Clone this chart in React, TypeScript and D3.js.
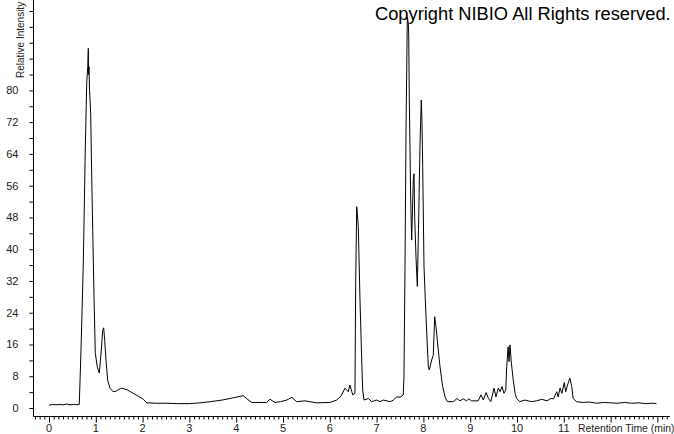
import React, { useRef, useEffect } from "react"
import * as d3 from "d3"

// retention time (min) and relative intensity
const retentionTime = [
  0.0, 0.08, 0.15, 0.22, 0.3, 0.38, 0.45, 0.52, 0.6, 0.647, 0.684, 0.733,
  0.776, 0.806, 0.828, 0.84, 0.846, 0.855, 0.866, 0.876, 0.891, 0.912, 0.934,
  0.962, 0.989, 1.032, 1.075, 1.118, 1.147, 1.169, 1.19, 1.218, 1.254, 1.303,
  1.361, 1.41, 1.48, 1.553, 1.667, 1.8, 1.92, 2.015, 2.088, 2.3, 2.515, 2.75,
  3.0, 3.23, 3.45, 3.7, 3.95, 4.15, 4.22, 4.33, 4.65, 4.72, 4.83, 4.95, 5.08,
  5.19, 5.29, 5.47, 5.72, 6.0, 6.147, 6.24, 6.325, 6.395, 6.43, 6.49, 6.538,
  6.553, 6.575, 6.588, 6.609, 6.645, 6.682, 6.703, 6.731, 6.823, 6.895, 7.002,
  7.07, 7.14, 7.29, 7.36, 7.43, 7.5, 7.57, 7.585, 7.607, 7.628, 7.656, 7.677,
  7.686, 7.699, 7.729, 7.75, 7.767, 7.784, 7.799, 7.814, 7.842, 7.87, 7.895,
  7.927, 7.955, 7.97, 7.985, 8.013, 8.041, 8.071, 8.105, 8.126, 8.177, 8.211,
  8.241, 8.269, 8.318, 8.355, 8.412, 8.462, 8.511, 8.64, 8.72, 8.78, 8.85,
  8.92, 8.97, 9.03, 9.17, 9.23, 9.28, 9.34, 9.39, 9.44, 9.51, 9.55, 9.6, 9.64,
  9.68, 9.72, 9.76, 9.78, 9.81, 9.83, 9.85, 9.88, 9.92, 9.96, 9.99, 10.06,
  10.17, 10.24, 10.31, 10.42, 10.53, 10.64, 10.72, 10.78, 10.85, 10.88, 10.92,
  10.96, 11.01, 11.04, 11.08, 11.13, 11.17, 11.2, 11.27, 11.4, 11.55, 11.7,
  11.85, 12.0, 12.15, 12.3, 12.45, 12.6, 12.75, 12.9, 12.98,
]
const intensity = [
  0.7, 0.9, 0.8, 0.9, 0.8, 1.0, 0.8, 0.9, 0.8, 0.9, 14.6, 36.5,
  65.7, 81.9, 86, 90.6, 84, 86, 80, 78, 74, 59, 45,
  28, 13.8, 10.3, 8.8, 14.6, 19.6, 20.2, 17, 12, 7, 5,
  4.2, 4.1, 4.6, 5.0, 4.6, 3.7, 2.9, 2.2, 1.3, 1.2, 1.2, 1.1,
  1.1, 1.3, 1.6, 2.0, 2.6, 3.1, 2.4, 1.4, 1.4, 2.2, 1.4, 1.6, 2.0,
  2.7, 1.6, 1.8, 1.3, 1.4, 2.0, 3.0, 5.0, 4.1, 5.8, 3.3, 3.7,
  31.5, 50.7, 49, 45.7, 27.2, 12.1, 4.5, 2.0, 2.4, 1.6, 2.0,
  1.6, 2.0, 1.6, 2.0, 2.8, 2.7, 3.3, 7.9, 35.6, 69, 98.5, 97,
  94, 77.6, 52.4, 42.3, 50, 57.4, 59, 48, 38, 30.6, 45,
  66, 77.6, 72, 60.8, 35.6, 27.2, 18.9, 10.4, 9.6, 12.1, 13.3,
  23, 20.5, 14.6, 10.4, 5.4, 2.8, 1.6, 1.6, 2.4, 1.8, 2.3,
  1.8, 2.3, 1.8, 1.8, 3.3, 2.0, 3.9, 2.4, 1.6, 5.0, 2.8, 5.0, 4.1,
  5.4, 3.7, 4.5, 10.4, 15.4, 11.7, 15.9, 11.3, 7.0, 3.7, 2.4, 1.6,
  2.0, 1.8, 1.6, 1.8, 2.2, 1.8, 2.4, 2.3, 4.1, 2.8, 5.0,
  3.7, 6.4, 4.1, 5.8, 7.5, 5.4, 2.4, 1.6, 1.4, 1.5, 1.2,
  1.4, 1.3, 1.2, 1.4, 1.2, 1.3, 1.1, 1.2, 1.1,
]
const yTicks = d3.range(0, 101, 4)
const yLabels = [0, 8, 16, 24, 32, 40, 48, 56, 64, 72, 80]
const xTicks = d3.range(-3, 133, 1).map(d => d / 10)
const xLabels = [0, 1, 2, 3, 4, 5, 6, 7, 8, 9, 10, 11]

const W = 674,
  H = 434
const left = 33.5,
  right = 670,
  bottom = 416.5,
  top = 0

function Chromatogram() {
  const ref = useRef(null)

  useEffect(() => {
    const svg = d3.select(ref.current)
    svg.selectAll("*").remove()

    const x = d3
      .scaleLinear()
      .domain([(left - 49) / 46.8, (right - 49) / 46.8])
      .range([left, right])
    const y = d3
      .scaleLinear()
      .domain([(408 - bottom) / 3.97, (408 - top) / 3.97])
      .range([bottom, top])

    const font = "'Liberation Sans', Arial, sans-serif"

    // y axis
    const yAxis = svg
      .append("g")
      .attr("transform", `translate(${left}, 0)`)
      .call(
        d3
          .axisLeft(y)
          .tickValues(yTicks)
          .tickSize(4)
          .tickSizeOuter(0)
          .tickFormat(() => "")
      )
    yAxis.select(".domain").attr("d", `M0,${top}V${bottom}`)
    yAxis.selectAll("line").attr("stroke", "#000")

    svg
      .append("g")
      .selectAll("text")
      .data(yLabels)
      .join("text")
      .attr("x", 18.5)
      .attr("y", d => y(d))
      .attr("dy", "0.35em")
      .attr("text-anchor", "end")
      .style("font-family", font)
      .style("font-size", "11px")
      .attr("fill", "#222")
      .text(d => d)

    // x axis
    const xAxis = svg
      .append("g")
      .attr("transform", `translate(0, ${bottom})`)
      .call(
        d3
          .axisBottom(x)
          .tickValues(xTicks)
          .tickSizeOuter(0)
          .tickFormat(() => "")
      )
    xAxis.select(".domain").attr("d", `M${left},0H${right}`)
    xAxis
      .selectAll(".tick line")
      .attr("stroke", "#000")
      .attr("y2", (d: any) => (Math.abs(d - Math.round(d)) < 1e-6 ? 6 : 3))

    svg
      .append("g")
      .selectAll("text")
      .data(xLabels)
      .join("text")
      .attr("x", d => x(d))
      .attr("y", 432)
      .attr("text-anchor", "middle")
      .style("font-family", font)
      .style("font-size", "11px")
      .attr("fill", "#222")
      .text(d => d)

    svg
      .append("text")
      .attr("x", 578)
      .attr("y", 432)
      .style("font-family", font)
      .style("font-size", "10.4px")
      .attr("fill", "#222")
      .text("Retention Time (min)")

    svg
      .append("text")
      .attr("transform", "translate(23.5, 78) rotate(-90)")
      .style("font-family", font)
      .style("font-size", "10px")
      .attr("fill", "#222")
      .text("Relative Intensity")

    // trace
    const pts = retentionTime.map((t, i) => [t, intensity[i]] as [number, number])
    const line = d3
      .line<[number, number]>()
      .x(d => x(d[0]))
      .y(d => y(d[1]))
    svg
      .append("path")
      .datum(pts)
      .attr("d", line)
      .attr("fill", "none")
      .attr("stroke", "#000")
      .attr("stroke-width", 1)

    svg
      .append("text")
      .attr("x", 375)
      .attr("y", 19.5)
      .style("font-family", font)
      .style("font-size", "18.3px")
      .attr("fill", "#000")
      .text("Copyright NIBIO All Rights reserved.")
  }, [])

  return (
    <div style={{ position: "fixed", left: 0, top: 0, background: "#fff" }}>
      <svg ref={ref} width={W} height={H}></svg>
    </div>
  )
}

export default function App() {
  return <Chromatogram />
}
